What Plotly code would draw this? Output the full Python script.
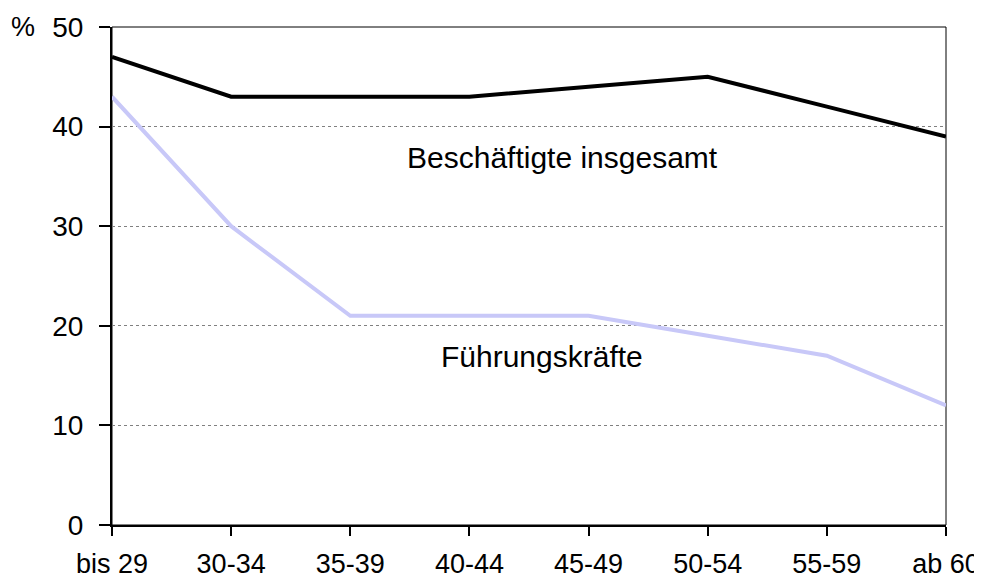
import plotly.graph_objects as go

altersgruppen = ["bis 29", "30-34", "35-39", "40-44", "45-49", "50-54", "55-59", "ab 60"]
beschaeftigte = [47, 43, 43, 43, 44, 45, 42, 39]
fuehrungskraefte = [43, 30, 21, 21, 21, 19, 17, 12]

fig = go.Figure()

fig.add_trace(go.Scatter(
    x=altersgruppen, y=fuehrungskraefte, mode="lines",
    line=dict(color="#c8c8f8", width=4), cliponaxis=False,
))
fig.add_trace(go.Scatter(
    x=altersgruppen, y=beschaeftigte, mode="lines",
    line=dict(color="black", width=4), cliponaxis=False,
))

fig.add_annotation(x=3.777, y=36.9, text="Beschäftigte insgesamt", showarrow=False,
                   yanchor="middle", font=dict(size=30))
fig.add_annotation(x=3.61, y=16.9, text="Führungskräfte", showarrow=False,
                   yanchor="middle", font=dict(size=30))
fig.add_annotation(x=-0.123, xref="paper", y=50, text="%", showarrow=False,
                   xanchor="left", yanchor="middle", font=dict(size=27))

# thin frame on top and right
fig.add_shape(type="rect", xref="paper", yref="paper", x0=0, x1=1, y0=0, y1=1,
              line=dict(color="black", width=1), layer="below")

fig.update_xaxes(
    type="category", range=[0, 7], showgrid=False, automargin=False,
    showline=True, linecolor="black", linewidth=2,
    ticks="outside", ticklen=9, tickwidth=1.5, tickcolor="black",
    tickfont=dict(size=27, color="black"), ticklabelstandoff=5,
)
fig.update_yaxes(
    range=[0, 50], dtick=10, showgrid=True, gridcolor="#808080", gridwidth=1,
    griddash="3px,3px", zeroline=False, automargin=False,
    showline=True, linecolor="black", linewidth=2,
    ticks="outside", ticklen=11, tickwidth=1.5, tickcolor="black",
    tickfont=dict(size=28, color="black"), ticklabelstandoff=10,
)

# page body has an 8px margin, so size the figure to land on the same pixels
fig.update_layout(
    width=974, height=571,
    margin=dict(l=104, r=36, t=19, b=54),
    plot_bgcolor="white", paper_bgcolor="white",
    font=dict(family="Liberation Sans, Arial, sans-serif", color="black"),
    showlegend=False,
)

fig.write_html("out.html")
